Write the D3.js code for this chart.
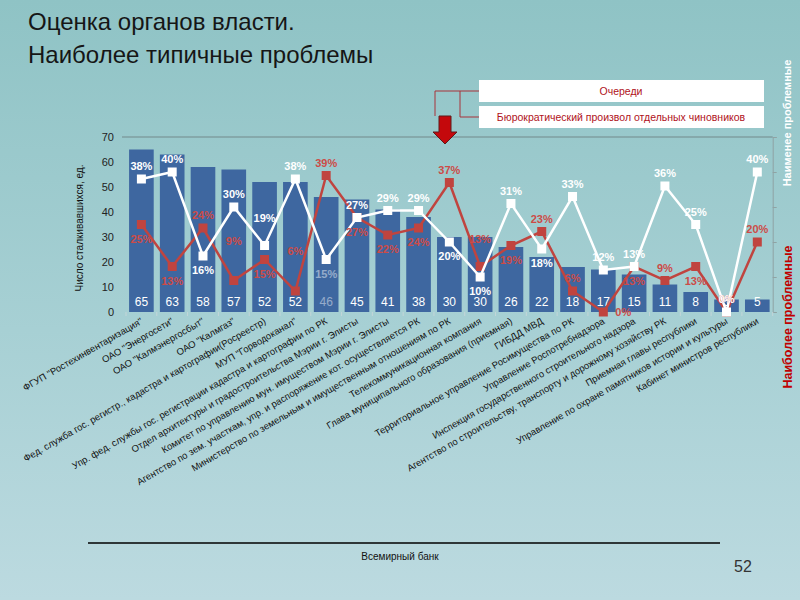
<!DOCTYPE html>
<html><head><meta charset="utf-8">
<script src="https://cdn.jsdelivr.net/npm/d3@7"></script>
<style>html,body{margin:0;padding:0;}svg{display:block;font-family:"Liberation Sans",Arial,sans-serif;}</style>
</head><body>
<svg id="c" width="800" height="600"></svg>
<script>
const categories = [
  'ФГУП "Ростехинвентаризация"',
  'ОАО "Энергосети"',
  'ОАО "Калмэнергосбыт"',
  'ОАО "Калмгаз"',
  'Фед. служба гос. регистр., кадастра и картографии(Росреестр)',
  'МУП "Горводоканал"',
  'Упр. фед. службы гос. регистрации кадастра и картографии по РК',
  'Отдел архитектуры и градостроительства Мэрии г. Элисты',
  'Комитет по управлению мун. имуществом Мэрии г. Элисты',
  'Агентство по зем. участкам, упр. и распоряжение кот. осуществляется РК',
  'Министерство по земельным и имущественным отношениям по РК',
  'Телекоммуникационная компания',
  'Глава муниципального образования (приемная)',
  'ГИБДД МВД',
  'Территориальное управление Росимущества по РК',
  'Управление Роспотребнадзора',
  'Инспекция государственного строительного надзора',
  'Агентство по строительству, транспорту и дорожному хозяйству РК',
  'Приемная главы республики',
  'Управление по охране памятников истории и культуры',
  'Кабинет министров республики'
];
const counts = [65, 63, 58, 57, 52, 52, 46, 45, 41, 38, 30, 30, 26, 22, 18, 17, 15, 11, 8, 5, 5];
const whiteSeries = [38, 40, 16, 30, 19, 38, 15, 27, 29, 29, 20, 10, 31, 18, 33, 12, 13, 36, 25, 0, 40];
const redSeries   = [25, 13, 24, 9, 15, 6, 39, 27, 22, 24, 37, 13, 19, 23, 6, 0, 13, 9, 13, 0, 20];
const yTicks = [0, 10, 20, 30, 40, 50, 60, 70];
const y2Ticks = [0, 10, 20, 30, 40, 50];
// label placement codes: a = above, b = below, A = far above, r = right
const whitePlace = ['a','a','b','a','A','a','b','a','a','a','b','b','a','b','a','a','a','a','a','a','a'];
const redPlace   = ['b','b','a','F','b','F','a','b','b','b','a','A','b','a','a','r','b','a','b','a','a'];
const legendItems = ['Очереди', 'Бюрократический произвол отдельных чиновников'];
const titleLines = ['Оценка органов власти.', 'Наиболее типичные проблемы'];
const yTitle = 'Число сталкивавшихся, ед.';
const rightTop = 'Наименее проблемные';
const rightBottom = 'Наиболее проблемные';
const footer = 'Всемирный банк';
const pageNo = '52';
const fadedIndex = 6;

const svg = d3.select('#c');
const defs = svg.append('defs');
const g = defs.append('linearGradient').attr('id','bg').attr('x1',0).attr('y1',0).attr('x2',0).attr('y2',1);
g.append('stop').attr('offset','0%').attr('stop-color','#8fc3c5');
g.append('stop').attr('offset','55%').attr('stop-color','#a7d0d4');
g.append('stop').attr('offset','100%').attr('stop-color','#bcdae0');
svg.append('rect').attr('width',800).attr('height',600).attr('fill','url(#bg)');

// title
svg.append('g').selectAll('text').data(titleLines).join('text')
  .attr('x',28).attr('y',(d,i)=>30+i*33).attr('font-size',24).attr('fill','#161616').text(d=>d);

const x = d3.scaleBand().domain(categories).range([126, 772.7]).paddingInner(0.2).paddingOuter(0.1);
const y = d3.scaleLinear().domain([0,70]).range([312,137]);
const y2 = d3.scaleLinear().domain([0,50]).range([312,137]);
const bw = x.bandwidth();
const step = x.step();

// top gridline
svg.append('line').attr('x1',122).attr('x2',772.7).attr('y1',y(70)).attr('y2',y(70))
  .attr('stroke','#72898b').attr('stroke-width',1);

// y axis
const yAx = svg.append('g').attr('transform','translate(118,0)')
  .call(d3.axisLeft(y).tickValues(yTicks).tickSize(0).tickPadding(4));
yAx.select('.domain').remove();
yAx.selectAll('text').attr('font-size',11).attr('fill','#222').attr('font-family','"Liberation Sans",Arial,sans-serif');

svg.append('text').attr('transform','translate(83,228) rotate(-90)').attr('text-anchor','middle')
  .attr('font-size',10).attr('fill','#111').text(yTitle);

// right axis
const y2Ax = svg.append('g').attr('transform','translate(772.7,0)')
  .call(d3.axisRight(y2).tickValues(y2Ticks).tickSize(4).tickFormat(''));
y2Ax.selectAll('path,line').attr('stroke','#8fa3a4');

// bars
svg.append('g').selectAll('rect').data(counts).join('rect')
  .attr('x',(d,i)=>x(categories[i])).attr('width',bw)
  .attr('y',d=>y(d)).attr('height',d=>y(0)-y(d)).attr('fill','#3e67a0');

// boundary ticks
const bounds = categories.map(c=>x(c)-(step-bw)/2).concat([x(categories[categories.length-1])+bw+(step-bw)/2]);
svg.append('g').selectAll('line').data(bounds).join('line')
  .attr('x1',d=>d).attr('x2',d=>d).attr('y1',312).attr('y2',316)
  .attr('stroke','#c3d6d8').attr('stroke-width',1);

// bar labels
svg.append('g').selectAll('text').data(counts).join('text')
  .attr('x',(d,i)=>x(categories[i])+bw/2).attr('y',306).attr('text-anchor','middle')
  .attr('font-size',12).attr('fill','#fff').attr('opacity',(d,i)=>i===fadedIndex?0.45:1).text(d=>d);

const cx = i => x(categories[i]) + bw/2;
const lineGen = d3.line().x((d,i)=>cx(i)).y(d=>y2(d));

function drawSeries(vals, color, labelColor, place, isWhite){
  svg.append('path').datum(vals).attr('d',lineGen).attr('fill','none')
    .attr('stroke',color).attr('stroke-width',2.5).attr('stroke-linejoin','miter');
  svg.append('g').selectAll('rect').data(vals).join('rect')
    .attr('x',(d,i)=>cx(i)-4.5).attr('y',d=>y2(d)-4.5).attr('width',9).attr('height',9).attr('fill',color);
  return (function(){
    svg.append('g').selectAll('text').data(vals).join('text')
      .attr('x',(d,i)=>cx(i) + (place[i]==='r'?12:0))
      .attr('y',(d,i)=>{
        const p = place[i], yy = y2(d);
        if(p==='a') return yy-9;
        if(p==='A') return yy-24;
        if(p==='F') return yy-36;
        if(p==='b') return yy+18;
        return yy+4;
      })
      .attr('text-anchor',(d,i)=>place[i]==='r'?'start':'middle')
      .attr('font-size',11).attr('font-weight','bold').attr('fill',labelColor)
      .attr('opacity',(d,i)=>isWhite && i===fadedIndex?0.45:1)
      .text(d=>d+'%');
  });
}
const redLabels = drawSeries(redSeries,'#c0443f','#cd4b47',redPlace,false);
const whiteLabels = drawSeries(whiteSeries,'#ffffff','#ffffff',whitePlace,true);
redLabels(); whiteLabels();

// x labels
svg.append('g').selectAll('text').data(categories).join('text')
  .attr('transform',(d,i)=>`translate(${cx(i)+2},323) rotate(-30)`)
  .attr('text-anchor','end').attr('font-size',9.5).attr('fill','#111').text(d=>d);

// legend boxes
const lg = svg.append('g');
lg.selectAll('rect').data(legendItems).join('rect')
  .attr('x',479).attr('y',(d,i)=>80+i*26).attr('width',285).attr('height',22).attr('fill','#fff');
lg.selectAll('text').data(legendItems).join('text')
  .attr('x',621).attr('y',(d,i)=>95+i*26).attr('text-anchor','middle')
  .attr('font-size',10.5).attr('fill','#b0121b').text(d=>d);
lg.append('path').attr('d','M479,91 H435 V116').attr('fill','none').attr('stroke','#a8333a').attr('stroke-width',1);
lg.append('path').attr('d','M479,117 H460 V91').attr('fill','none').attr('stroke','#a8333a').attr('stroke-width',1);
// arrow
lg.append('path').attr('d','M439,116 H451 V132 H457 L445,144 L433,132 H439 Z')
  .attr('fill','#c4080c').attr('stroke','#5e1a1a').attr('stroke-width',1);

// right vertical texts
svg.append('text').attr('transform','translate(791,123) rotate(-90)').attr('text-anchor','middle')
  .attr('font-size',11).attr('font-weight','bold').attr('fill','#fff').text(rightTop);
svg.append('text').attr('transform','translate(792,317) rotate(-90)').attr('text-anchor','middle')
  .attr('font-size',12.5).attr('font-weight','bold').attr('fill','#c00000').text(rightBottom);

// footer
svg.append('line').attr('x1',88).attr('x2',720).attr('y1',543).attr('y2',543).attr('stroke','#000').attr('stroke-width',1.5);
svg.append('text').attr('x',400).attr('y',560).attr('text-anchor','middle').attr('font-size',10).attr('fill','#111').text(footer);
svg.append('text').attr('x',743).attr('y',572).attr('text-anchor','middle').attr('font-size',16).attr('fill','#333').text(pageNo);
</script>
</body></html>
